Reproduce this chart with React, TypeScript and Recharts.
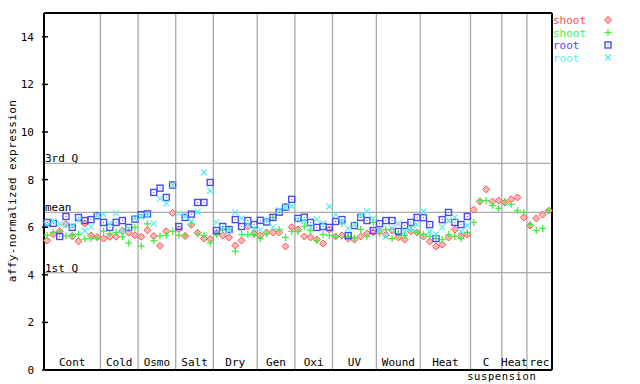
import React from 'react';
import { ScatterChart, Scatter, XAxis, YAxis, ReferenceLine } from 'recharts';

const mono = '"DejaVu Sans Mono", monospace';

// treatment groups along the x axis (number of samples in each)
const groupNames = ['Cont', 'Cold', 'Osmo', 'Salt', 'Dry', 'Gen', 'Oxi', 'UV', 'Wound', 'Heat', 'C', 'Heat', 'rec'];
const groupSubLabels = ['', '', '', '', '', '', '', '', '', '', 'suspension', '', ''];
const groupSizes = [9, 6, 6, 6, 7, 6, 6, 7, 7, 8, 5, 4, 4];

const shootRed = [
  5.44, 5.70, 5.83, 6.13, 5.62, 5.41, 6.15, 5.66, 5.58,
  5.52, 5.60, 5.60, 5.85, 5.77, 5.66,
  5.60, 5.87, 5.63, 5.22, 5.83, 6.60,
  5.92, 5.63, 6.10, 5.77, 5.52, 5.50,
  5.75, 5.65, 5.57, 5.23, 5.44, 6.03, 5.73,
  5.65, 5.78, 5.78, 5.78, 5.19, 6.00,
  5.90, 5.61, 5.57, 5.48, 5.31, 5.90,
  5.61, 5.65, 5.52, 5.48, 5.61, 5.73, 5.78,
  5.82, 5.69, 5.86, 5.57, 5.48, 5.82, 5.78,
  5.61, 5.40, 5.19, 5.27, 5.57, 5.90, 5.61, 5.69,
  6.74, 7.08, 7.59, 7.08, 7.12,
  7.04, 7.17, 7.25, 6.41,
  6.07, 6.37, 6.53, 6.70,
];

const shootGreen = [
  5.66, 5.78, 5.83, 5.63, 5.66, 5.70, 5.51, 5.52, 5.55,
  5.83, 5.73, 5.78, 5.60, 5.34, 5.99,
  5.21, 6.14, 5.43, 5.63, 5.66, 5.83,
  5.66, 5.66, 6.15, 5.73, 5.66, 5.34,
  5.69, 5.89, 5.92, 4.99, 5.69, 5.69, 5.70,
  5.52, 5.73, 6.41, 5.90, 5.57, 5.82,
  5.82, 6.03, 5.86, 5.44, 5.69, 5.65,
  5.60, 6.15, 5.61, 5.55, 5.90, 5.61, 6.20,
  5.75, 5.90, 5.52, 5.73, 5.65, 5.90, 5.78,
  5.70, 5.61, 5.52, 5.48, 5.69, 5.61, 5.52, 5.78,
  6.20, 7.12, 7.12, 6.91, 6.79,
  7.08, 6.96, 6.70, 6.62,
  6.11, 5.86, 5.95, 6.70,
];

const rootBlue = [
  6.20, 6.16, 5.61, 6.45, 5.99, 6.41, 6.28, 6.32, 6.48,
  6.20, 5.99, 6.20, 6.28, 5.99, 6.34,
  6.53, 6.56, 7.46, 7.64, 7.25, 7.77,
  6.03, 6.41, 6.55, 7.04, 7.04, 7.88,
  5.86, 6.03, 5.90, 6.32, 6.03, 6.28, 6.11,
  6.29, 6.22, 6.41, 6.63, 6.84, 7.17,
  6.37, 6.42, 6.20, 5.99, 6.03, 5.99,
  6.24, 6.32, 5.65, 6.07, 6.41, 6.28, 5.86,
  6.15, 6.28, 6.28, 5.82, 6.07, 6.20, 6.41,
  6.40, 6.11, 5.52, 6.32, 6.62, 6.20, 6.11, 6.45,
  null, null, null, null, null,
  null, null, null, null,
  null, null, null, null,
];

const rootCyan = [
  6.10, 6.25, 6.15, 6.10, 6.05, 6.30, 5.85, 6.00, 6.50,
  6.55, 6.15, 6.60, 5.85, 5.95, 6.38,
  6.45, 6.50, 6.15, 7.20, 7.00, 7.77,
  6.58, 6.45, 6.25, 6.65, 8.30, 7.53,
  6.20, 5.95, 5.86, 6.62, 6.37, 6.11, 5.95,
  5.90, 6.29, 6.00, 6.72, 6.84, 6.88,
  6.33, 6.25, 5.99, 6.33, 6.16, 6.87,
  6.53, 6.24, 5.95, 6.10, 6.49, 6.67, 6.37,
  5.86, 5.61, 5.95, 6.15, 5.82, 5.95, 6.10,
  6.66, 5.82, 5.70, 5.99, 6.28, 6.41, 5.82, 6.07,
  null, null, null, null, null,
  null, null, null, null,
  null, null, null, null,
];

const quartileLabels = ['3rd Q', 'mean', '1st Q'];
const quartileValues = [8.68, 6.62, 4.09];
const yTicks = [0, 2, 4, 6, 8, 10, 12, 14];
const yMax = 15;

const nSamples = groupSizes.reduce((a, b) => a + b, 0);
const groupStarts = groupSizes.map((_, i) => groupSizes.slice(0, i).reduce((a, b) => a + b, 0));
const groupCenters = groupStarts.map((s, i) => s + (groupSizes[i] - 1) / 2);
const groupBounds = groupStarts.slice(1).map((s) => s - 0.5);

const toPoints = (vals: (number | null)[]) =>
  vals.map((v, i) => ({ x: i, y: v })).filter((p) => p.y != null);

const RED = '#ff4d4d';
const GREEN = '#44ee44';
const BLUE = '#4a4af0';
const CYAN = '#55eeee';

const Diamond = ({ cx, cy }: any) => (
  <path d={`M${cx},${cy - 3.5} L${cx + 3.5},${cy} L${cx},${cy + 3.5} L${cx - 3.5},${cy} Z`} stroke={RED} strokeWidth={1} fill="#ffb8b8" />
);
const Plus = ({ cx, cy }: any) => (
  <g stroke={GREEN} strokeWidth={1.3}>
    <line x1={cx - 3.5} x2={cx + 3.5} y1={cy} y2={cy} />
    <line x1={cx} x2={cx} y1={cy - 3.5} y2={cy + 3.5} />
  </g>
);
const Square = ({ cx, cy }: any) => (
  <g>
    <rect x={cx - 3} y={cy - 3} width={6} height={6} stroke={BLUE} strokeWidth={1.4} fill="none" />
    <rect x={cx - 0.5} y={cy - 0.5} width={1} height={1} fill={BLUE} />
  </g>
);
const Cross = ({ cx, cy }: any) => (
  <g stroke={CYAN} strokeWidth={1.2}>
    <line x1={cx - 3} x2={cx + 3} y1={cy - 3} y2={cy + 3} />
    <line x1={cx - 3} x2={cx + 3} y1={cy + 3} y2={cy - 3} />
  </g>
);

const LeftTick = (p: any) => (
  <g>
    <line x1={p.x} x2={p.x + 6} y1={p.y} y2={p.y} stroke="#000" strokeWidth={1.5} />
    <text x={p.x - 8} y={p.y + 4} textAnchor="end" fontSize={11} fontFamily={mono} fill="#000">
      {p.payload.value}
    </text>
  </g>
);

const RightTick = (p: any) => (
  <line x1={p.x - 6} x2={p.x} y1={p.y} y2={p.y} stroke="#000" strokeWidth={1.5} />
);

const GroupTick = (p: any) => {
  const i = groupCenters.indexOf(p.payload.value);
  return (
    <g>
      <text x={p.x} y={p.y - 4} textAnchor="middle" fontSize={11} fontFamily={mono} fill="#000">
        {groupNames[i]}
      </text>
      {groupSubLabels[i] ? (
        <text x={p.x - 19} y={p.y + 9.5} textAnchor="start" fontSize={10.5} letterSpacing={0.6} fontFamily={mono} fill="#000">
          {groupSubLabels[i]}
        </text>
      ) : null}
    </g>
  );
};

const legendItems = [
  { label: 'shoot', color: RED, Shape: Diamond },
  { label: 'shoot', color: GREEN, Shape: Plus },
  { label: 'root', color: BLUE, Shape: Square },
  { label: 'root', color: CYAN, Shape: Cross },
];

const App = () => {
  const xDomain = [-0.5, nSamples - 0.5];
  return (
    <div style={{ position: 'fixed', left: 0, top: 0, width: 640, height: 384, background: '#fff' }}>
      <ScatterChart width={640} height={384} margin={{ top: 13, right: 0, bottom: 13, left: 0 }}>
        <XAxis
          xAxisId="b"
          type="number"
          dataKey="x"
          domain={xDomain}
          ticks={groupCenters}
          interval={0}
          height={1}
          tickSize={0}
          tickMargin={0}
          tickLine={false}
          tick={<GroupTick />}
          axisLine={{ stroke: '#000', strokeWidth: 2 }}
        />
        <YAxis
          yAxisId="l"
          type="number"
          dataKey="y"
          domain={[0, yMax]}
          ticks={yTicks}
          interval={0}
          width={44}
          tickSize={0}
          tickLine={false}
          tick={<LeftTick />}
          axisLine={{ stroke: '#000', strokeWidth: 2 }}
        />
        <YAxis
          yAxisId="r"
          orientation="right"
          type="number"
          dataKey="y"
          domain={[0, yMax]}
          ticks={yTicks}
          interval={0}
          width={88}
          tickSize={0}
          tickLine={false}
          tick={<RightTick />}
          axisLine={{ stroke: '#000', strokeWidth: 2 }}
        />

        {groupBounds.map((b) => (
          <ReferenceLine key={'b' + b} x={b} xAxisId="b" yAxisId="l" stroke="#a9a9a9" strokeWidth={1.3} />
        ))}
        {quartileValues.map((v, i) => (
          <ReferenceLine
            key={quartileLabels[i]}
            y={v}
            xAxisId="b"
            yAxisId="l"
            stroke="#a9a9a9"
            strokeWidth={1.3}
            label={{ value: quartileLabels[i], position: 'insideBottomLeft', offset: 1, fill: '#000', fontSize: 11, fontFamily: mono }}
          />
        ))}
        <ReferenceLine y={yMax} xAxisId="b" yAxisId="l" stroke="#000" strokeWidth={2} />

        <Scatter data={toPoints(shootRed)} xAxisId="b" yAxisId="l" shape={<Diamond />} isAnimationActive={false} />
        <Scatter data={toPoints(shootGreen)} xAxisId="b" yAxisId="l" shape={<Plus />} isAnimationActive={false} />
        <Scatter data={toPoints(rootBlue)} xAxisId="b" yAxisId="l" shape={<Square />} isAnimationActive={false} />
        <Scatter data={toPoints(rootCyan)} xAxisId="b" yAxisId="l" shape={<Cross />} isAnimationActive={false} />
      </ScatterChart>

      <svg width={640} height={384} style={{ position: 'absolute', left: 0, top: 0, pointerEvents: 'none' }}>
        <text transform="translate(12,191) rotate(-90)" textAnchor="middle" dominantBaseline="central" fontSize={11} letterSpacing={0.4} fontFamily={mono} fill="#000">
          affy-normalized expression
        </text>
        {legendItems.map((it, i) => (
          <g key={i}>
            <text x={553} y={24 + i * 12.5} fontSize={11} fontFamily={mono} fill={it.color}>
              {it.label}
            </text>
            <it.Shape cx={608} cy={20 + i * 12.5} />
          </g>
        ))}
      </svg>
    </div>
  );
};

export default App;
